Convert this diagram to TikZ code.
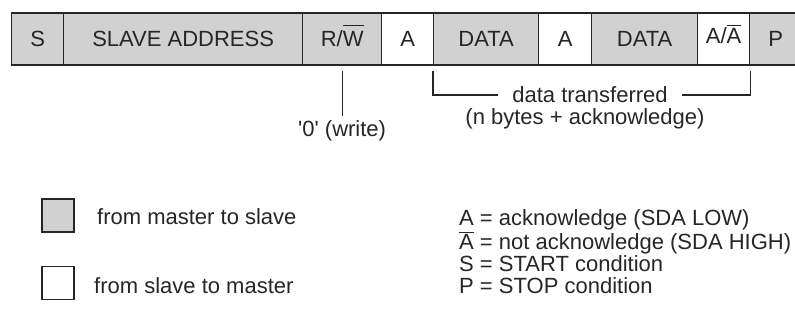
\documentclass[tikz,border=0pt]{standalone}
\usepackage{fontspec}
\setmainfont{Liberation Sans}[Ligatures=TeXOff]
\usepackage{tikz}

\definecolor{fieldgray}{gray}{0.82}
\definecolor{ink}{gray}{0.15}

% letter with a bar over it, #1 = gap above the letter
\newcommand\barred[2]{\setbox0\hbox{#2}\rlap{\rule[\dimexpr\ht0+#1\relax]{\wd0}{1.1pt}}\box0\relax}

\begin{document}
\begin{tikzpicture}[x=1pt,y=-1pt,
	every node/.style={font=\fontsize{22}{26}\selectfont, text=ink, inner sep=0pt},
	field/.style={draw=ink, line width=1.3pt, minimum height=52pt, anchor=west, text height=15.75pt, text depth=0pt},
	master/.style={field, fill=fieldgray},
	slave/.style={field, fill=white},
	keybox/.style={draw=ink, line width=1.3pt, minimum width=32pt, minimum height=33pt},
	wire/.style={draw=ink, line width=1.2pt}]

\useasboundingbox (0,0) rectangle (795,327);

%Frame
\node[master, minimum width=52pt] (s) at (11,39) {S};
\node[master, minimum width=239pt] (addr) at (63,39) {SLAVE ADDRESS};
\node[master, minimum width=79pt] (rw) at (302,39) {R/\barred{6pt}{W}};
\node[slave, minimum width=52pt] (a1) at (381,39) {A};
\node[master, minimum width=105pt] (data1) at (433,39) {DATA};
\node[slave, minimum width=53pt] (a2) at (538,39) {A};
\node[master, minimum width=106pt] (data2) at (591,39) {DATA};
\node[slave, minimum width=52pt, text height=8pt] (a3) at (697,39) {A/\barred{2pt}{A}};
\node[master, minimum width=52pt] (p) at (749,39) {P};

%Notes under the frame
\node (write) at ([yshift=-65pt]rw.south) {'0' (write)};
\node[inner xsep=14pt] (transfer) at (590,95) {data transferred};
\node (bytes) at (585,119) {(n bytes + acknowledge)};

\begin{scope}[wire]
	\draw[shorten <=5pt, shorten >=4pt] (rw.south) -- (write.north);
	\draw[shorten <=5pt] (data1.south west) |- (transfer.west);
	\draw[shorten <=5pt] (a3.south east) |- (transfer.east);
\end{scope}

%Legend
\node[keybox, fill=fieldgray] (keymaster) at (58,215.5) {};
\node[keybox, fill=white] (keyslave) at (58,283) {};
\node[anchor=base west] (txtmaster) at (97,224) {from master to slave};
\node[anchor=base west] (txtslave) at (94,293) {from slave to master};

\node[anchor=base west] (defack) at (459,225) {A = acknowledge (SDA LOW)};
\node[anchor=base west] (defnack) at (459,249.5) {\barred{1.5pt}{A} = not acknowledge (SDA HIGH)};
\node[anchor=base west] (defstart) at (459,271) {S = START condition};
\node[anchor=base west] (defstop) at (459,293) {P = STOP condition};

\end{tikzpicture}
\end{document}
